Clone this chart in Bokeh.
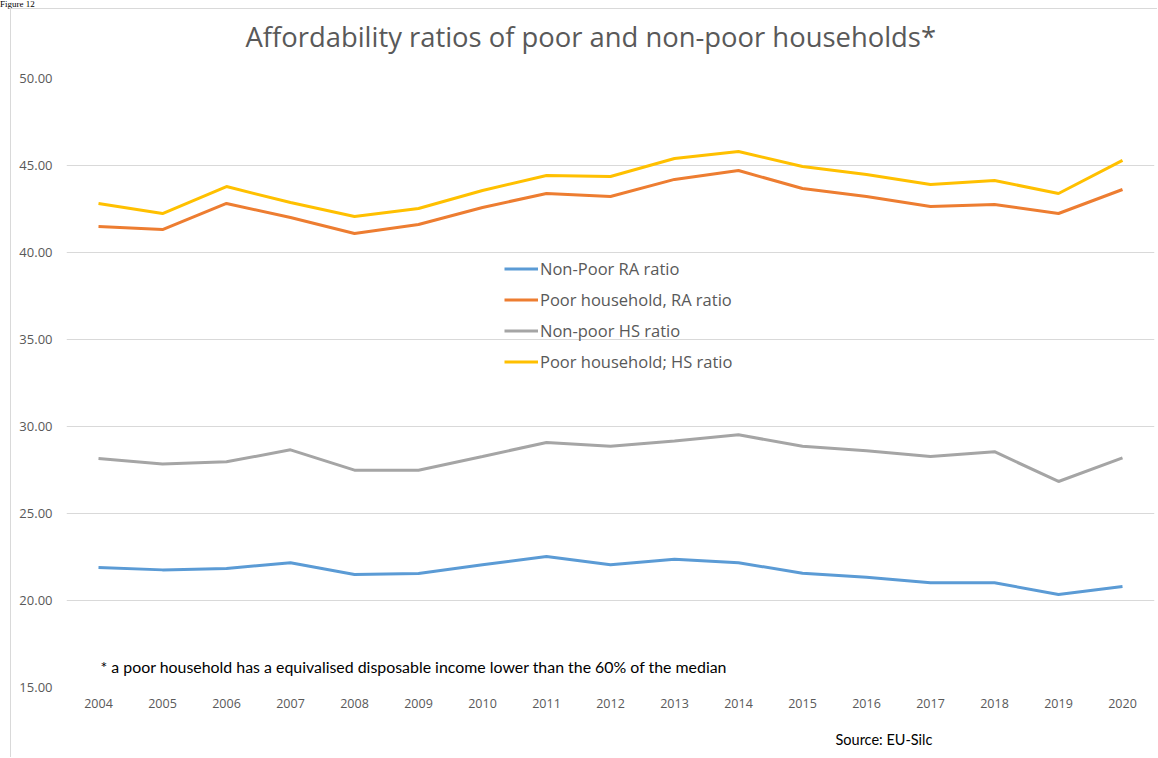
from bokeh.plotting import figure
from bokeh.layouts import column
from bokeh.models import (Legend, LegendItem, Label, FixedTicker, NumeralTickFormatter,
                          Range1d, Title, Div)
from bokeh.embed import file_html
from bokeh.resources import INLINE

years = list(range(2004, 2021))
non_poor_ra = [21.90, 21.76, 21.84, 22.17, 21.49, 21.55, 22.05, 22.53, 22.05, 22.37, 22.17,
               21.57, 21.34, 21.02, 21.02, 20.34, 20.80]
poor_ra = [41.49, 41.32, 42.82, 42.01, 41.09, 41.61, 42.59, 43.39, 43.22, 44.20, 44.71,
           43.68, 43.22, 42.64, 42.76, 42.24, 43.62]
non_poor_hs = [28.16, 27.85, 27.97, 28.66, 27.49, 27.49, 28.28, 29.08, 28.87, 29.16, 29.52,
               28.87, 28.60, 28.28, 28.55, 26.84, 28.20]
poor_hs = [42.82, 42.24, 43.79, 42.87, 42.07, 42.53, 43.56, 44.43, 44.37, 45.40, 45.80,
           44.94, 44.48, 43.91, 44.14, 43.39, 45.29]
series_names = ["Non-Poor RA ratio", "Poor household, RA ratio", "Non-poor HS ratio",
                "Poor household; HS ratio"]
colors = ["#5B9BD5", "#ED7D31", "#A5A5A5", "#FFC000"]
y_ticks = [15, 20, 25, 30, 35, 40, 45, 50]

FONT = "Open Sans"
GREY = "#595959"

p = figure(width=1147, height=749, output_backend="svg", toolbar_location=None,
           x_range=Range1d(2003.5, 2020.5), y_range=Range1d(15, 50),
           min_border_left=55, min_border_right=4, min_border_top=69, min_border_bottom=71,
           margin=(0, 0, 0, 10))
p.title = None
p.styles = {"border-top": "1px solid #D9D9D9", "border-left": "1px solid #D9D9D9"}
p.outline_line_color = None
p.background_fill_color = "white"
p.border_fill_color = "white"

# spacer between frame and title, then the title itself
p.add_layout(Title(text=" ", text_font_size="1px", standoff=21), "above")
p.add_layout(Title(text="Affordability ratios of poor and non-poor households*",
                   align="left", offset=179, standoff=0,
                   text_font=FONT, text_font_size="27.4px", text_font_style="normal",
                   text_color=GREY), "above")

p.xgrid.grid_line_color = None
p.ygrid.grid_line_color = "#D9D9D9"
p.ygrid.grid_line_width = 1

p.yaxis.ticker = FixedTicker(ticks=y_ticks)
p.yaxis.formatter = NumeralTickFormatter(format="0.00")
p.xaxis.ticker = FixedTicker(ticks=years)
for ax in (p.xaxis, p.yaxis):
    ax.axis_line_color = None
    ax.major_tick_line_color = None
    ax.minor_tick_line_color = None
    ax.major_tick_out = 0
    ax.major_tick_in = 0
    ax.major_label_text_font = FONT
    ax.major_label_text_font_size = "13px"
    ax.major_label_text_color = GREY
p.xaxis.major_label_text_font_size = "12.5px"
p.yaxis.major_label_standoff = 14
p.xaxis.major_label_standoff = 11

items = []
for name, vals, c in zip(series_names, [non_poor_ra, poor_ra, non_poor_hs, poor_hs], colors):
    r = p.line(years, vals, line_color=c, line_width=3)
    items.append(LegendItem(label=name, renderers=[r]))

legend = Legend(items=items, location=(438, 310), orientation="vertical",
                background_fill_alpha=0, border_line_color=None,
                label_text_font=FONT, label_text_font_size="16.5px", label_text_color=GREY,
                glyph_width=34, glyph_height=31, label_height=31, label_standoff=2,
                spacing=0, padding=0, margin=0)
p.add_layout(legend, "center")

# spacer between x axis and source note, then the note
p.add_layout(Title(text=" ", text_font_size="1px", standoff=11), "below")
p.add_layout(Title(text="Source: EU-Silc", align="left", offset=769, standoff=8,
                   text_font="Lato", text_font_size="14.5px", text_font_style="normal",
                   text_color="black"), "below")

p.add_layout(Label(x=34, y=21, x_units="screen", y_units="screen",
                   text="* a poor household has a equivalised disposable income lower than the 60% of the median",
                   text_font="Lato", text_font_size="15.9px", text_color="black",
                   text_align="left", text_baseline="middle"))

fig_label = Div(text="Figure 12", width=1158, height=8, margin=0,
                styles={"font-family": "Liberation Serif", "font-size": "9px",
                        "line-height": "8px", "color": "black"})

layout = column(fig_label, p, margin=0, spacing=0)

open("out.html", "w").write(file_html(layout, INLINE))
